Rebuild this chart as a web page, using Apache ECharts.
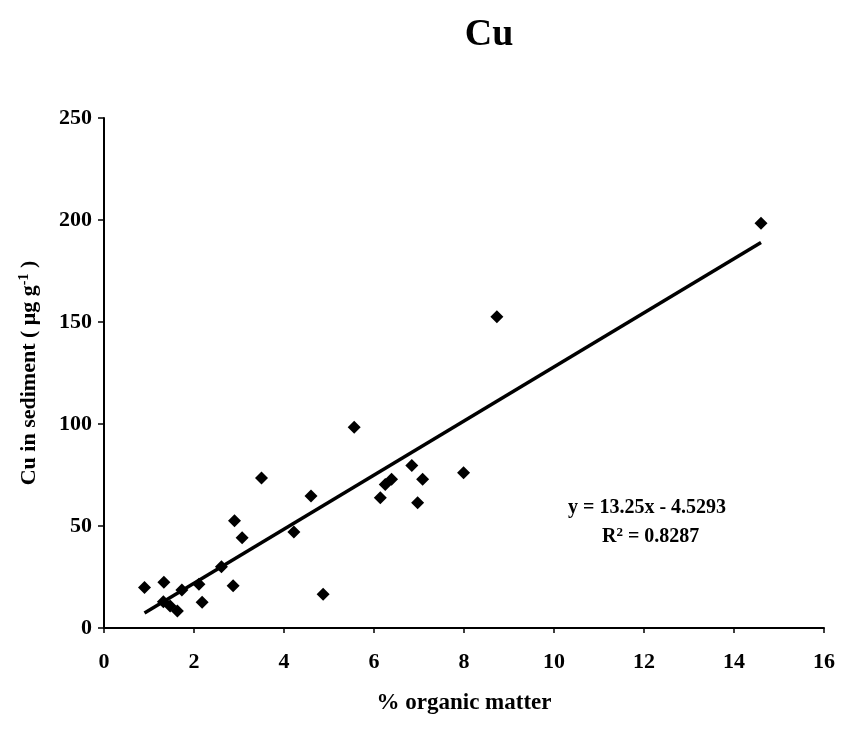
<!DOCTYPE html>
<html>
<head>
<meta charset="utf-8">
<script src="https://cdn.jsdelivr.net/npm/echarts@6/dist/echarts.min.js"></script>
<style>
html,body{margin:0;padding:0;background:#fff;}
#chart{width:851px;height:732px;}
</style>
</head>
<body>
<div id="chart"></div>
<script>
// Observed data: % organic matter vs Cu in sediment (µg g-1)
var organicMatter = [0.90, 1.33, 1.32, 1.47, 1.63, 1.73, 2.11, 2.18, 2.61, 2.87, 2.90, 3.07, 3.50, 4.22, 4.60, 4.87, 5.56, 6.14, 6.25, 6.39, 6.84, 6.97, 7.08, 7.99, 8.73, 14.60];
var cuValues     = [19.8, 22.4, 12.9, 10.8, 8.3, 18.6, 21.4, 12.6, 30.0, 20.7, 52.6, 44.3, 73.5, 47.0, 64.7, 16.5, 98.4, 63.9, 70.4, 72.9, 79.6, 61.4, 72.9, 76.1, 152.6, 198.4];
// Linear trend line as reported
var trendSlope = 13.25;
var trendIntercept = -4.5293;
var trendRange = [0.90, 14.60];
var equationText = "y = 13.25x - 4.5293";
var r2Text = "0.8287";
var xTicks = [0, 2, 4, 6, 8, 10, 12, 14, 16];
var yTicks = [0, 50, 100, 150, 200, 250];

var scatterData = organicMatter.map(function (x, i) { return [x, cuValues[i]]; });
var trendData = trendRange.map(function (x) { return [x, trendSlope * x + trendIntercept]; });

var serif = '"Liberation Serif", "Times New Roman", serif';
var chart = echarts.init(document.getElementById('chart'));
chart.setOption({
  backgroundColor: '#ffffff',
  animation: false,
  title: {
    text: 'Cu',
    left: 484, top: 11, textAlign: 'center',
    textStyle: { fontFamily: serif, fontWeight: 'bold', fontSize: 38, color: '#000' }
  },
  grid: { left: 104, right: 27, top: 118, bottom: 104, containLabel: false },
  xAxis: {
    type: 'value', min: xTicks[0], max: xTicks[xTicks.length - 1], interval: 2,
    name: '% organic matter', nameLocation: 'middle', nameGap: 64,
    nameTextStyle: { fontFamily: serif, fontWeight: 'bold', fontSize: 23, color: '#000' },
    axisLine: { show: true, onZero: false, lineStyle: { color: '#000', width: 2 } },
    axisTick: { show: true, inside: false, length: 5, lineStyle: { color: '#000', width: 1.5 } },
    axisLabel: { margin: 23, fontFamily: serif, fontWeight: 'bold', fontSize: 22, color: '#000' },
    splitLine: { show: false }
  },
  yAxis: {
    type: 'value', min: yTicks[0], max: yTicks[yTicks.length - 1], interval: 50,
    name: '{n|Cu in sediment ( μg g}{s|-1}{n| )}', nameLocation: 'middle', nameGap: 62, nameRotate: 90,
    nameTextStyle: {
      fontFamily: serif, fontWeight: 'bold', fontSize: 22, color: '#000',
      rich: {
        n: { fontFamily: serif, fontWeight: 'bold', fontSize: 22, color: '#000' },
        s: { fontFamily: serif, fontWeight: 'bold', fontSize: 14, color: '#000', verticalAlign: 'top', padding: [0, 0, 11, 0] }
      }
    },
    axisLine: { show: true, lineStyle: { color: '#000', width: 2 } },
    axisTick: { show: true, inside: false, length: 6, lineStyle: { color: '#000', width: 1.5 } },
    axisLabel: { margin: 12, fontFamily: serif, fontWeight: 'bold', fontSize: 22, color: '#000' },
    splitLine: { show: false }
  },
  series: [
    {
      type: 'line', data: trendData, symbol: 'none', z: 3,
      lineStyle: { color: '#000', width: 3.5 }
    },
    {
      type: 'scatter', data: scatterData, symbol: 'diamond', symbolSize: 13, z: 4,
      itemStyle: { color: '#000', opacity: 1 }
    }
  ],
  graphic: [
    { type: 'text', left: 568, top: 498, style: { text: equationText, fontFamily: serif, fontWeight: 'bold', fontSize: 20, fill: '#000' } },
    { type: 'text', left: 602, top: 526, style: {
        text: '{n|R}{s|2}{n| = ' + r2Text + '}',
        rich: {
          n: { fontFamily: serif, fontWeight: 'bold', fontSize: 20, fill: '#000' },
          s: { fontFamily: serif, fontWeight: 'bold', fontSize: 13, fill: '#000', verticalAlign: 'top', padding: [0, 0, 9, 0] }
        } } }
  ]
});
</script>
</body>
</html>
